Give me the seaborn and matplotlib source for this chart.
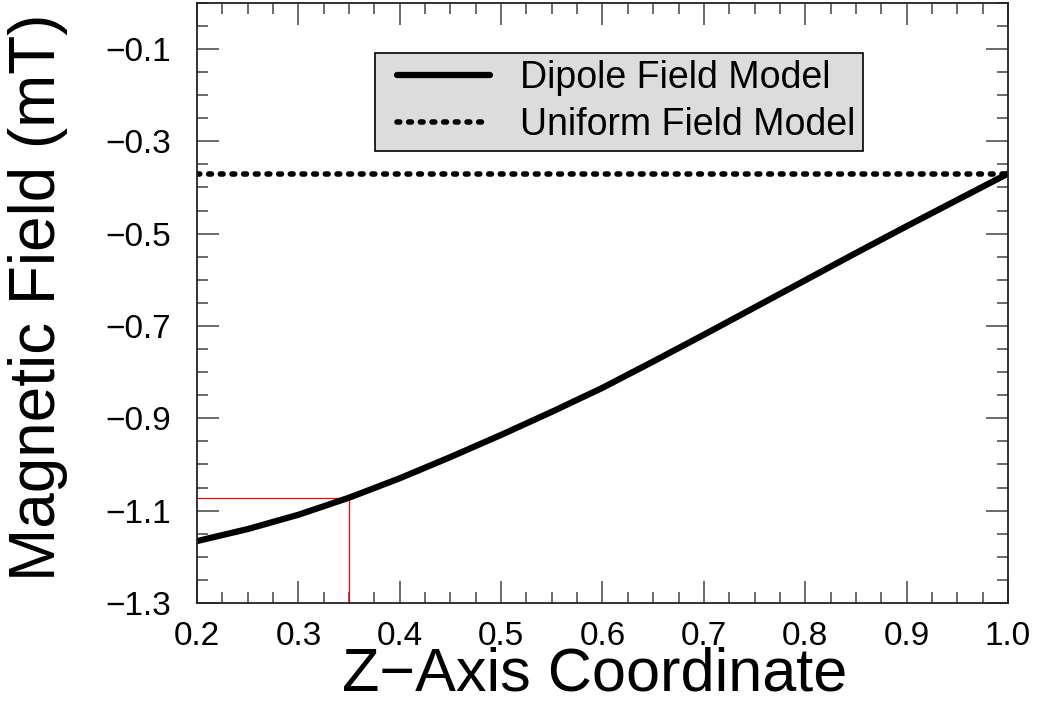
import numpy as np
import pandas as pd
import matplotlib
matplotlib.use("Agg")
import matplotlib.pyplot as plt
from matplotlib.lines import Line2D
from matplotlib.legend_handler import HandlerLine2D
from matplotlib.ticker import MultipleLocator, FixedLocator, FuncFormatter
import seaborn as sns

# Values
z_coord = [0.20, 0.25, 0.30, 0.35, 0.40, 0.45, 0.50, 0.55, 0.60, 0.65,
           0.70, 0.75, 0.80, 0.85, 0.90, 0.95, 1.00]
dipole_field = [-1.166, -1.140, -1.109, -1.072, -1.030, -0.984, -0.936, -0.886,
                -0.834, -0.777, -0.719, -0.660, -0.601, -0.542, -0.484, -0.427, -0.370]
uniform_field = [-0.370] * len(z_coord)
marker_index = 3  # z = 0.35

y_ticks = [-1.3, -1.1, -0.9, -0.7, -0.5, -0.3, -0.1]
x_ticks = [0.2, 0.3, 0.4, 0.5, 0.6, 0.7, 0.8, 0.9, 1.0]

sns.set_theme(style="ticks")
plt.rcParams['font.family'] = ['Liberation Sans', 'DejaVu Sans']
plt.rcParams['text.color'] = 'black'
plt.rcParams['axes.labelcolor'] = 'black'
plt.rcParams['xtick.labelcolor'] = 'black'
plt.rcParams['ytick.labelcolor'] = 'black'

df = pd.DataFrame({'z': z_coord, 'dipole': dipole_field, 'uniform': uniform_field})

fig = plt.figure(figsize=(10.37, 7.06), dpi=100)
ax = fig.add_axes([0.19, 0.146, 0.782, 0.85])

sns.lineplot(data=df, x='z', y='dipole', ax=ax, color='black', linewidth=4.5,
             label='Dipole Field Model', solid_capstyle='round')
sns.lineplot(data=df, x='z', y='uniform', ax=ax, color='black', linewidth=4,
             label='Uniform Field Model', dashes=False)
ax.lines[1].set_dashes([0.5, 1.6])
ax.lines[1].set_dash_capstyle('round')

# red marker lines at z = 0.35
xm, ym = z_coord[marker_index], dipole_field[marker_index]
ax.hlines(ym, z_coord[0], xm, color='red', linewidth=0.9, zorder=1)
ax.vlines(xm, -1.3, ym, color='red', linewidth=0.9, zorder=1)

ax.set_xlim(0.2, 1.0)
ax.set_ylim(-1.3, 0.0)

minus = lambda v, p: f"{v:.1f}".replace("-", "\u2212")
ax.xaxis.set_major_locator(FixedLocator(x_ticks))
ax.xaxis.set_minor_locator(MultipleLocator(0.025))
ax.yaxis.set_major_locator(FixedLocator(y_ticks))
ax.yaxis.set_minor_locator(MultipleLocator(0.05))
ax.yaxis.set_major_formatter(FuncFormatter(minus))
ax.xaxis.set_major_formatter(FuncFormatter(lambda v, p: f"{v:.1f}"))

ax.tick_params(which='both', direction='in', top=True, right=True,
               color='#444444', width=1.1)
ax.tick_params(which='major', length=16, labelsize=24)
ax.tick_params(axis='x', which='major', pad=13)
ax.tick_params(axis='y', which='major', pad=19)
ax.tick_params(which='minor', length=8)
for s in ax.spines.values():
    s.set_color('#222222')
    s.set_linewidth(1.3)

ax.set_xlabel('Z\u2212Axis Coordinate', fontsize=44)
ax.xaxis.set_label_coords(0.49, -0.073)
ax.set_ylabel('Magnetic Field (mT)', fontsize=46)
ax.yaxis.set_label_coords(-0.159, 0.51)

leg = ax.legend(loc='upper left', bbox_to_anchor=(0.219, 0.917), fontsize=27,
                frameon=True, fancybox=False, facecolor='#dcdcdc', edgecolor='black',
                framealpha=1, handlelength=2.88, borderpad=0.2, labelspacing=0.3,
                handletextpad=0.79, borderaxespad=0,
                handler_map={Line2D: HandlerLine2D(xpad=0.4)})
leg.get_frame().set_linewidth(1.2)

fig.savefig('out.png', dpi=100)
